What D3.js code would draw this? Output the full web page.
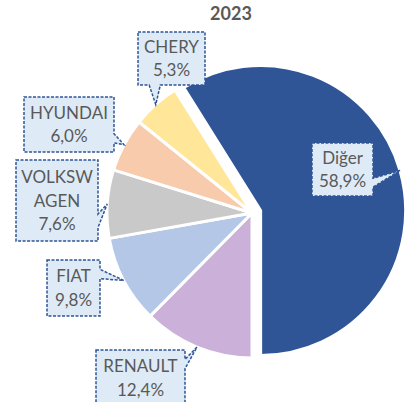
<!DOCTYPE html>
<html>
<head>
<meta charset="utf-8">
<script src="https://cdn.jsdelivr.net/npm/d3@7"></script>
<style>
  body { margin: 0; background: #fff; }
  svg { display: block; }
</style>
</head>
<body>
<svg id="chart"></svg>
<script>
// market share 2023
const brands = ['Diğer', 'RENAULT', 'FIAT', 'VOLKSWAGEN', 'HYUNDAI', 'CHERY'];
const shares = [58.9, 12.4, 9.8, 7.6, 6.0, 5.3];
const labelLines = [['Diğer'], ['RENAULT'], ['FIAT'], ['VOLKSW', 'AGEN'], ['HYUNDAI'], ['CHERY']];
const sliceColors = ['#2F5597', '#CBB0DA', '#B4C7E7', '#C9C9C9', '#F8CBAD', '#FFE699'];
const title = '2023';

// callout boxes, by brand
const labelBoxes = {
  'Diğer':      {x: 312, y: 143, w: 61, h: 53},
  'RENAULT':    {x: 96,  y: 350, w: 89, h: 56},
  'FIAT':       {x: 47,  y: 260, w: 53, h: 56},
  'VOLKSWAGEN': {x: 16,  y: 160, w: 82, h: 81},
  'HYUNDAI':    {x: 24,  y: 97,  w: 90, h: 55},
  'CHERY':      {x: 138, y: 32,  w: 67, h: 53}
};

const width = 408, height = 402;
const cx = 252, cy = 213, radius = 145, explode = 9;

const svg = d3.select('#chart')
  .attr('width', width)
  .attr('height', height);

const locale = d3.formatLocale({decimal: ',', thousands: '.', grouping: [3], currency: ['', '']});
const fmt = locale.format('.1f');

const data = brands.map((b, i) => ({brand: b, value: shares[i], lines: labelLines[i], color: sliceColors[i]}));
const total = d3.sum(shares);

// first slice ends straight down
const start = Math.PI - shares[0] / total * 2 * Math.PI;
const pie = d3.pie()
  .sort(null)
  .value(d => d.value)
  .startAngle(start)
  .endAngle(start + 2 * Math.PI);

const arcs = pie(data);
const arc = d3.arc().innerRadius(0).outerRadius(radius);
const edge = d3.arc().innerRadius(radius).outerRadius(radius);

function offset(d, i) {
  if (i !== 0) return [0, 0];
  const a = (d.startAngle + d.endAngle) / 2;
  return [Math.sin(a) * explode, -Math.cos(a) * explode];
}

const bounds = svg.append('g')
  .attr('transform', `translate(${cx},${cy})`);

bounds.selectAll('.slice')
  .data(arcs)
  .enter().append('path')
  .attr('class', 'slice')
  .attr('transform', (d, i) => `translate(${offset(d, i)})`)
  .attr('d', arc)
  .attr('fill', d => d.data.color)
  .attr('stroke', '#fff')
  .attr('stroke-width', 3)
  .attr('stroke-linejoin', 'round');

svg.append('text')
  .attr('x', 231)
  .attr('y', 20)
  .attr('text-anchor', 'middle')
  .style('font-family', 'Lato, sans-serif')
  .style('font-weight', 'bold')
  .style('font-size', '18px')
  .attr('fill', '#595959')
  .text(title);

function callout(b, tip) {
  const {x, y, w, h} = b;
  const dx = (tip[0] - (x + w / 2)) / w;
  const dy = (tip[1] - (y + h / 2)) / h;
  let pts;
  if (Math.abs(dx) > Math.abs(dy)) {
    const ya = dy < 0 ? y + h / 6 : y + h * 2 / 3;
    const yb = dy < 0 ? y + h / 3 : y + h * 5 / 6;
    if (dx > 0) pts = [[x, y], [x + w, y], [x + w, ya], tip, [x + w, yb], [x + w, y + h], [x, y + h]];
    else pts = [[x, y], [x + w, y], [x + w, y + h], [x, y + h], [x, yb], tip, [x, ya]];
  } else {
    const xa = dx < 0 ? x + w / 6 : x + w * 2 / 3;
    const xb = dx < 0 ? x + w / 3 : x + w * 5 / 6;
    if (dy > 0) pts = [[x, y], [x + w, y], [x + w, y + h], [xb, y + h], tip, [xa, y + h], [x, y + h]];
    else pts = [[x, y], [xa, y], tip, [xb, y], [x + w, y], [x + w, y + h], [x, y + h]];
  }
  return 'M' + pts.map(p => p.join(',')).join('L') + 'Z';
}

const labels = svg.selectAll('.label')
  .data(arcs)
  .enter().append('g')
  .attr('class', 'label');

labels.append('path')
  .attr('d', (d, i) => {
    const o = offset(d, i);
    const c = edge.centroid(d);
    const tip = [cx + c[0] + o[0], cy + c[1] + o[1]];
    return callout(labelBoxes[d.data.brand], tip);
  })
  .attr('fill', '#DEEBF7')
  .attr('stroke', '#2F5597')
  .attr('stroke-width', 1.5)
  .attr('stroke-dasharray', '3,1.5');

labels.each(function(d) {
  const b = labelBoxes[d.data.brand];
  const lines = d.data.lines.concat([fmt(d.data.value) + '%']);
  const n = lines.length;
  const text = d3.select(this).append('text')
    .attr('text-anchor', 'middle')
    .style('font-family', 'Lato, sans-serif')
    .style('font-size', '17px')
    .attr('fill', '#595959');
  lines.forEach((l, i) => {
    text.append('tspan')
      .attr('x', b.x + b.w / 2)
      .attr('y', b.y + b.h / 2 + (i - (n - 1) / 2) * 23.5 + 6)
      .text(l);
  });
});
</script>
</body>
</html>
